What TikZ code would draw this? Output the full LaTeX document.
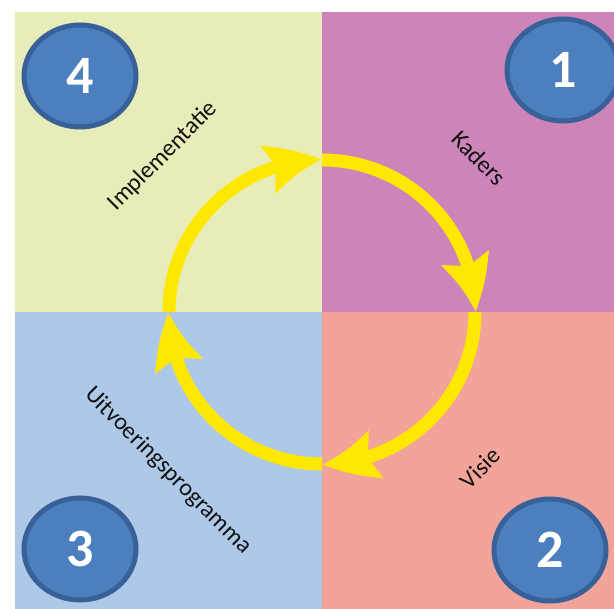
\documentclass[tikz,border=0pt]{standalone}
\usepackage{fontspec}
\setmainfont{Carlito}
\usetikzlibrary{shapes.geometric,arrows.meta,bending}
\definecolor{qTL}{HTML}{E8ECB8}
\definecolor{qTR}{HTML}{CC84B9}
\definecolor{qBL}{HTML}{AEC9E8}
\definecolor{qBR}{HTML}{F2A39A}
\definecolor{cycyellow}{HTML}{FFE800}
\definecolor{numfill}{HTML}{4B7FBE}
\definecolor{numborder}{HTML}{38619A}
\definecolor{labeltext}{HTML}{111111}
\tikzset{
  numcircle/.style={ellipse, draw=numborder, fill=numfill, line width=5pt,
    minimum width=112pt, minimum height=102pt, inner sep=0pt,
    text=white, font=\fontsize{54}{54}\selectfont\bfseries},
  cycarrow/.style={draw=cycyellow, line width=13pt, line cap=butt,
    -{Stealth[length=55pt, width=47pt, inset=8pt, bend]}},
  phaselabel/.style={font=\fontsize{24}{24}\selectfont, text=labeltext, inner sep=0pt}
}
\begin{document}
\begin{tikzpicture}[x=1pt,y=1pt]
\useasboundingbox (0,0) rectangle (614,609);
\clip (0,0) rectangle (614,609);
% quadrants
\fill[qTL] (15,297) rectangle (322,597);
\fill[qTR] (322,297) rectangle (614,597);
\fill[qBL] (15,0) rectangle (322,297);
\fill[qBR] (322,0) rectangle (614,297);
% cycle points
\coordinate (T) at (322,449);
\coordinate (R) at (475,297);
\coordinate (B) at (322,145);
\coordinate (L) at (169,297);
\draw[cycarrow] (T) arc[start angle=90, end angle=0, x radius=153, y radius=152];
\draw[cycarrow] (R) arc[start angle=0, end angle=-90, x radius=153, y radius=152];
\draw[cycarrow] (B) arc[start angle=270, end angle=180, x radius=153, y radius=152];
\draw[cycarrow] (L) arc[start angle=180, end angle=90, x radius=153, y radius=152];
% labels
\node[phaselabel, rotate=-45] (kaders) at (479,451) {Kaders};
\node[phaselabel, rotate=45] (impl) at (163,453) {Implementatie};
\node[phaselabel, rotate=-45] (uitv) at (168,138) {Uitvoeringsprogramma};
\node[phaselabel, rotate=45] (visie) at (480,141) {Visie};
% numbered circles
\node[numcircle] (n4) at (80,533) {4};
\node[numcircle] (n1) at (563,539) {1};
\node[numcircle] (n3) at (80,60) {3};
\node[numcircle] (n2) at (550,59) {2};
\end{tikzpicture}
\end{document}
